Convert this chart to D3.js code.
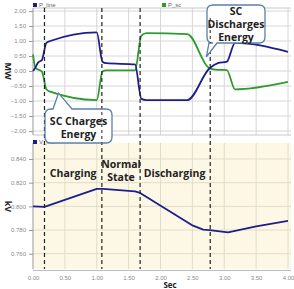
<!DOCTYPE html>
<html lang="en">
<head>
<meta charset="UTF-8">
<title>SC power and voltage</title>
<style>
    body { margin: 0; background: #fff; }
    svg { display: block; }
    .tick text { font-family: "Liberation Sans", Arial, sans-serif; font-size: 6px; fill: #8a8a8a; }
    .lbl { font-family: "Open Sans", sans-serif; font-weight: bold; fill: #222; }
</style>
</head>
<body>
<svg width="294" height="289"></svg>
<script src="https://d3js.org/d3.v7.min.js"></script>
<script>
// P_line / P_sc (MW) against time (s)
var tP = [0, 0.04, 0.08, 0.14, 0.21, 0.27, 1.0, 1.09, 1.15, 1.6, 1.70, 1.78, 2.42, 2.77, 2.90, 3.04, 3.17, 4.0];
var pLine = [0, 0.12, 0.28, 0.37, 0.94, 1.0, 1.29, 0.31, 0.26, 0.22, -0.93, -0.97, -0.97, 0.09, 0.26, 0.31, 0.94, 0.64];
var pSc = [0.55, 0.1, 0.05, -0.02, -0.61, -0.69, -0.97, -0.02, 0.02, 0.02, 1.18, 1.26, 1.23, 0.09, 0.04, 0.03, -0.61, -0.36];

// V_line (kV)
var tV = [0, 0.18, 1.0, 1.1, 1.6, 1.68, 2.51, 2.67, 2.77, 3.06, 3.5, 4.0];
var vLine = [0.800, 0.7996, 0.8147, 0.8147, 0.8127, 0.8113, 0.7837, 0.7803, 0.7800, 0.7781, 0.7831, 0.7878];

// dashed event markers (s)
var events = [0.18, 1.08, 1.68, 2.78];

var xTicks = [0, 0.5, 1, 1.5, 2, 2.5, 3, 3.5, 4];
var pTicks = [-2, -1.5, -1, -0.5, 0, 0.5, 1, 1.5, 2];
var vTicks = [0.76, 0.78, 0.80, 0.82, 0.84];

var phases = [
    {t: 0.63, lines: ["Charging"]},
    {t: 1.38, lines: ["Normal", "State"]},
    {t: 2.22, lines: ["Discharging"]}
];

var svg = d3.select("svg");
var left = 33, right = 291;
var top1 = 8, bot1 = 135, top2 = 143, bot2 = 269;

var x = d3.scaleLinear().domain([0, 4]).range([33, 288]);
var yP = d3.scaleLinear().domain([-2, 2]).range([131, 11]);
var yV = d3.scaleLinear().domain([0.76, 0.84]).range([253.7, 159]);

// panels
svg.append("rect").attr("x", left).attr("y", top1).attr("width", right - left).attr("height", bot1 - top1)
    .attr("fill", "#fff");
svg.append("rect").attr("x", left).attr("y", top2).attr("width", right - left).attr("height", bot2 - top2)
    .attr("fill", "#fdf8e6");

// grids
var g1 = svg.append("g");
g1.selectAll("line.v").data(xTicks.slice(1)).enter().append("line")
    .attr("x1", d => x(d)).attr("x2", d => x(d)).attr("y1", top1).attr("y2", bot1)
    .attr("stroke", "#d6d6d6").attr("stroke-width", 1);
g1.selectAll("line.h").data(pTicks).enter().append("line")
    .attr("x1", left).attr("x2", right).attr("y1", d => yP(d)).attr("y2", d => yP(d))
    .attr("stroke", "#d6d6d6").attr("stroke-width", 1);
svg.append("line").attr("x1", left).attr("x2", right).attr("y1", top1).attr("y2", top1).attr("stroke", "#c8c8c8");
svg.append("line").attr("x1", left).attr("x2", right).attr("y1", bot1).attr("y2", bot1).attr("stroke", "#c8c8c8");

var g2 = svg.append("g");
g2.selectAll("line.v").data(xTicks.slice(1)).enter().append("line")
    .attr("x1", d => x(d)).attr("x2", d => x(d)).attr("y1", top2).attr("y2", bot2)
    .attr("stroke", "#e2dcc6").attr("stroke-width", 1);
g2.selectAll("line.h").data(vTicks).enter().append("line")
    .attr("x1", left).attr("x2", right).attr("y1", d => yV(d)).attr("y2", d => yV(d))
    .attr("stroke", "#e2dcc6").attr("stroke-width", 1);
svg.append("line").attr("x1", left).attr("x2", right).attr("y1", bot2 + 1.5).attr("y2", bot2 + 1.5).attr("stroke", "#bbb");

// axes
var axP = svg.append("g").attr("transform", "translate(" + left + ",0)")
    .call(d3.axisLeft(yP).tickValues(pTicks).tickFormat(d3.format(".2f")).tickSize(4).tickSizeOuter(0));
var axV = svg.append("g").attr("transform", "translate(" + left + ",0)")
    .call(d3.axisLeft(yV).tickValues(vTicks).tickFormat(d3.format(".3f")).tickSize(4).tickSizeOuter(0));
var axX = svg.append("g").attr("transform", "translate(0," + (bot2 + 1.5) + ")")
    .call(d3.axisBottom(x).tickValues(xTicks).tickFormat(d3.format(".2f")).tickSize(0).tickPadding(5));
[axP, axV, axX].forEach(function(a) {
    a.selectAll(".domain").attr("stroke", "#999");
    a.selectAll(".tick line").attr("stroke", "#999");
});
axX.select(".domain").remove();
axP.select(".domain").attr("d", "M0," + top1 + "V" + bot1);
axV.select(".domain").attr("d", "M0," + top2 + "V" + bot2);

// axis titles
svg.append("text").attr("class", "lbl").attr("font-size", 9)
    .attr("transform", "translate(5," + yP(0) + ") rotate(90)").attr("text-anchor", "middle").text("MW");
svg.append("text").attr("class", "lbl").attr("font-size", 9)
    .attr("transform", "translate(5," + yV(0.8) + ") rotate(90)").attr("text-anchor", "middle").text("kV");
svg.append("text").attr("class", "lbl").attr("font-size", 8)
    .attr("x", x(2.15)).attr("y", 288).attr("text-anchor", "middle").text("Sec");

// lines
var lineP = d3.line().x(d => x(d[0])).y(d => yP(d[1])).curve(d3.curveMonotoneX);
var lineV = d3.line().x(d => x(d[0])).y(d => yV(d[1]));

svg.append("path").datum(d3.zip(tP, pSc)).attr("d", lineP)
    .attr("fill", "none").attr("stroke", "#2e9a2e").attr("stroke-width", 1.8);
svg.append("path").datum(d3.zip(tP, pLine)).attr("d", lineP)
    .attr("fill", "none").attr("stroke", "#1d1d8c").attr("stroke-width", 1.8);
svg.append("path").datum(d3.zip(tV, vLine)).attr("d", lineV)
    .attr("fill", "none").attr("stroke", "#1d1d8c").attr("stroke-width", 1.8)
    .attr("stroke-linejoin", "round");

// legends
function legend(px, py, col, name) {
    svg.append("rect").attr("x", px).attr("y", py - 4).attr("width", 4).attr("height", 4).attr("fill", col);
    svg.append("text").attr("x", px + 6).attr("y", py).attr("font-size", 6)
        .attr("font-family", "Liberation Sans, Arial, sans-serif").attr("fill", "#666").text(name);
}
legend(33, 7, "#1d1d8c", "P_line");
legend(162, 7, "#2e9a2e", "P_sc");
legend(33, 144, "#1d1d8c", "V_line");

// event markers
svg.selectAll("line.ev").data(events).enter().append("line")
    .attr("x1", d => x(d)).attr("x2", d => x(d)).attr("y1", top1).attr("y2", bot2)
    .attr("stroke", "#222").attr("stroke-width", 1.2).attr("stroke-dasharray", "4,3");

// phase labels
phases.forEach(function(p) {
    var t = svg.append("text").attr("class", "lbl").attr("font-size", 10.5).attr("text-anchor", "middle");
    var y0 = p.lines.length > 1 ? 168 : 177;
    p.lines.forEach(function(s, i) {
        t.append("tspan").attr("x", x(p.t)).attr("y", y0 + i * 12.5).text(s);
    });
});

// callouts
function callout(x0, y0, x1, y1, tail, lines, ty) {
    var r = 6, p = d3.path();
    p.moveTo(x0 + r, y0);
    if (tail.side === "top") { p.lineTo(tail.a, y0); p.lineTo(tail.tx, tail.ty); p.lineTo(tail.b, y0); }
    p.lineTo(x1 - r, y0); p.quadraticCurveTo(x1, y0, x1, y0 + r);
    p.lineTo(x1, y1 - r); p.quadraticCurveTo(x1, y1, x1 - r, y1);
    if (tail.side === "bottom") { p.lineTo(tail.b, y1); p.lineTo(tail.tx, tail.ty); p.lineTo(tail.a, y1); }
    p.lineTo(x0 + r, y1); p.quadraticCurveTo(x0, y1, x0, y1 - r);
    p.lineTo(x0, y0 + r); p.quadraticCurveTo(x0, y0, x0 + r, y0);
    p.closePath();
    svg.append("path").attr("d", p.toString()).attr("fill", "#fff")
        .attr("stroke", "#5b80a8").attr("stroke-width", 1.3);
    var t = svg.append("text").attr("class", "lbl").attr("font-size", 10.5).attr("text-anchor", "middle");
    lines.forEach(function(s, i) {
        t.append("tspan").attr("x", (x0 + x1) / 2).attr("y", ty + i * 13).text(s);
    });
}
callout(45, 109, 112, 143, {side: "top", a: 53, b: 72, tx: x(0.4), ty: yP(-0.74)},
    ["SC Charges", "Energy"], 125);
callout(207, 5, 265, 43, {side: "bottom", a: 209, b: 217, tx: x(2.72), ty: yP(0.47)},
    ["SC", "Discharges", "Energy"], 15);

// dashed markers show through the callout boxes
svg.selectAll("line.ev2").data(events.filter(d => d === 1.08 || d === 2.78)).enter().append("line")
    .attr("x1", d => x(d)).attr("x2", d => x(d))
    .attr("y1", d => d === 2.78 ? 18 : 112).attr("y2", d => d === 2.78 ? 43 : 143)
    .attr("stroke", "#222").attr("stroke-width", 1).attr("stroke-dasharray", "3,3");
</script>
</body>
</html>
